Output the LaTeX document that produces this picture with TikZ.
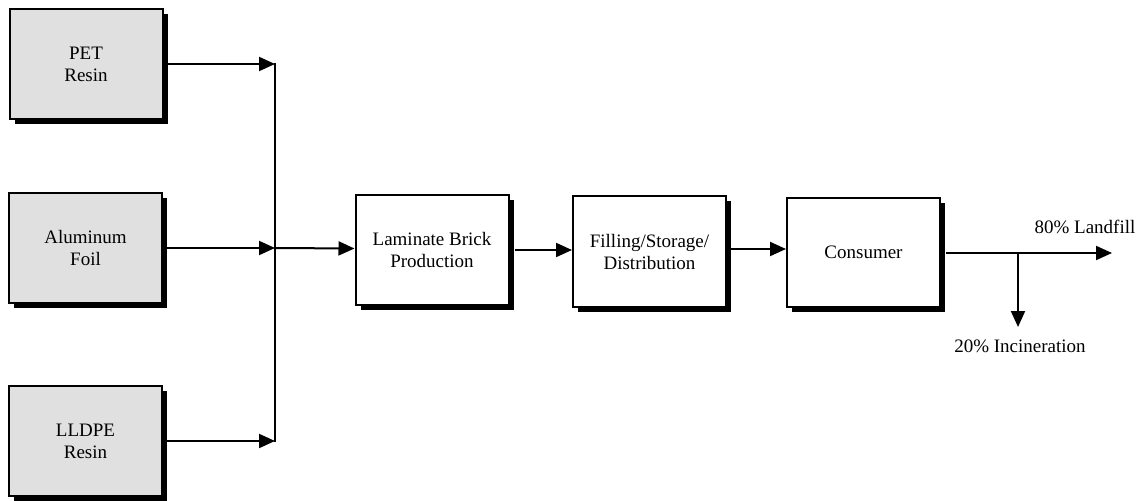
\documentclass[tikz,border=0pt]{standalone}
\usepackage{fontspec}
\setmainfont{Liberation Serif}
\usetikzlibrary{shadows,arrows.meta}
\definecolor{rawfill}{HTML}{E0E0E0}
\begin{document}
\begin{tikzpicture}[x=1pt,y=-1pt,
  font=\fontsize{19pt}{22pt}\selectfont,
  procbox/.style={draw=black,line width=2pt,fill=white,align=center,
    minimum width=153pt,minimum height=110pt,inner sep=0pt,
    drop shadow={shadow xshift=5pt,shadow yshift=-5pt,fill=black,opacity=1}},
  rawbox/.style={procbox,fill=rawfill},
  flow/.style={line width=2pt,-{Triangle[length=16pt,width=14pt]}},
  wire/.style={line width=2pt}]
\useasboundingbox (0,0) rectangle (1139,500);

% raw materials
\node[rawbox] (pet) at (86,64) {PET\\Resin};
\node[rawbox] (alu) at (85.5,248) {Aluminum\\Foil};
\node[rawbox] (lldpe) at (85.5,441) {LLDPE\\Resin};

% collector bus
\coordinate (jtop) at (275,64);
\coordinate (jmid) at (275,248);
\coordinate (jbot) at (275,441);
\draw[wire] (275,63) -- (275,442);

% process chain
\node[procbox] (lam) at (432,250) {Laminate Brick\\Production};
\node[procbox,minimum height=111pt] (fill) at (649.5,251.5) {Filling/Storage/\\Distribution};
\node[procbox,minimum height=109pt] (cons) at (863.5,252.5) {Consumer};

\draw[flow] ([xshift=4pt]pet.east) -- (jtop);
\draw[flow] ([xshift=4pt]alu.east) -- (jmid);
\draw[flow] ([xshift=4pt]lldpe.east) -- (jbot);
\draw[flow] (jmid) -- ([yshift=1.5pt]lam.west);
\coordinate (a2) at (515,250);
\draw[flow] (a2) -- (fill.west |- a2);
\coordinate (a3) at (731,249);
\draw[flow] (a3) -- (cons.west |- a3);

% end of life
\coordinate (out) at (946,253);
\coordinate (split) at (1018,253);
\coordinate (landfill) at (1112,253);
\coordinate (incin) at (1018,327);
\draw[flow] (out) -- (landfill);
\draw[flow] (split) -- (incin);
\node (lf) at (1085,227) {80\% Landfill};
\node (inc) at (1020,346) {20\% Incineration};
\end{tikzpicture}
\end{document}
